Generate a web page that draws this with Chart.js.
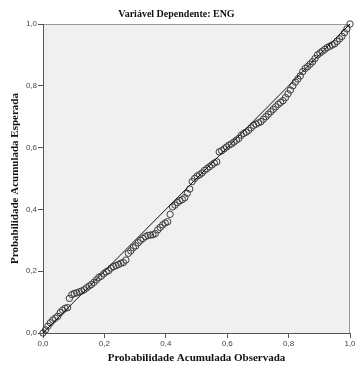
<!DOCTYPE html>
<html>
<head>
<meta charset="utf-8">
<script src="https://cdn.jsdelivr.net/npm/chart.js@4"></script>
<style>
  html, body { margin: 0; padding: 0; background: #fff; }
  #wrap { width: 355px; height: 365px; }
</style>
</head>
<body>
<div id="wrap"><canvas id="pp"></canvas></div>
<script>
// P-P plot of regression residuals (SPSS style)

const titleText = 'Variável Dependente: ENG';
const xTitle = 'Probabilidade Acumulada Observada';
const yTitle = 'Probabilidade Acumulada Esperada';
const tickValues = [0, 0.2, 0.4, 0.6, 0.8, 1.0];

// observed cumulative probability
const observed = [
  0.000, 0.008, 0.016, 0.024, 0.032, 0.040, 0.048, 0.056, 0.064, 0.072,
  0.080, 0.086, 0.094, 0.102, 0.110, 0.118, 0.126, 0.134, 0.142, 0.150,
  0.158, 0.166, 0.174, 0.182, 0.190, 0.198, 0.206, 0.214, 0.222, 0.230,
  0.238, 0.246, 0.254, 0.262, 0.270, 0.278, 0.286, 0.294, 0.302, 0.310,
  0.318, 0.326, 0.334, 0.342, 0.350, 0.358, 0.366, 0.374, 0.382, 0.390,
  0.398, 0.406, 0.414, 0.422, 0.430, 0.438, 0.446, 0.454, 0.462, 0.470,
  0.478, 0.486, 0.494, 0.502, 0.510, 0.518, 0.526, 0.534, 0.542, 0.550,
  0.558, 0.566, 0.574, 0.582, 0.590, 0.598, 0.606, 0.614, 0.622, 0.630,
  0.638, 0.646, 0.654, 0.662, 0.670, 0.678, 0.686, 0.694, 0.702, 0.710,
  0.718, 0.726, 0.734, 0.742, 0.750, 0.758, 0.766, 0.774, 0.782, 0.790,
  0.798, 0.806, 0.814, 0.822, 0.830, 0.838, 0.846, 0.854, 0.862, 0.870,
  0.878, 0.886, 0.894, 0.902, 0.910, 0.918, 0.926, 0.934, 0.942, 0.950,
  0.958, 0.966, 0.974, 0.982, 0.990, 1.000
];

// expected cumulative probability
const expected = [
  0.000, 0.010, 0.022, 0.033, 0.042, 0.048, 0.054, 0.066, 0.074, 0.080,
  0.082, 0.112, 0.124, 0.128, 0.130, 0.133, 0.136, 0.140, 0.146, 0.152,
  0.157, 0.164, 0.172, 0.180, 0.184, 0.192, 0.198, 0.202, 0.210, 0.215,
  0.218, 0.222, 0.226, 0.228, 0.236, 0.258, 0.266, 0.276, 0.282, 0.292,
  0.300, 0.306, 0.312, 0.316, 0.317, 0.318, 0.322, 0.334, 0.342, 0.350,
  0.356, 0.360, 0.384, 0.408, 0.414, 0.422, 0.428, 0.432, 0.438, 0.452,
  0.466, 0.490, 0.500, 0.508, 0.512, 0.518, 0.526, 0.532, 0.538, 0.544,
  0.550, 0.554, 0.586, 0.590, 0.596, 0.602, 0.608, 0.612, 0.618, 0.624,
  0.630, 0.640, 0.646, 0.650, 0.656, 0.664, 0.672, 0.676, 0.680, 0.684,
  0.692, 0.700, 0.708, 0.716, 0.724, 0.732, 0.740, 0.746, 0.752, 0.762,
  0.774, 0.786, 0.800, 0.812, 0.822, 0.832, 0.846, 0.856, 0.862, 0.870,
  0.878, 0.888, 0.900, 0.906, 0.912, 0.918, 0.924, 0.928, 0.932, 0.936,
  0.944, 0.952, 0.960, 0.972, 0.984, 1.000
];

const refLine = [{ x: 0, y: 0 }, { x: 1, y: 1 }];

const points = observed.map((x, i) => ({ x, y: expected[i] }));

const fmt = v => v.toFixed(1).replace('.', ',');

// grey plot background plus the lighter top/right frame
const plotFrame = {
  id: 'plotFrame',
  beforeDraw(chart) {
    const { ctx, chartArea: a } = chart;
    ctx.save();
    ctx.fillStyle = '#f0f0f0';
    ctx.fillRect(a.left, a.top, a.right - a.left, a.bottom - a.top);
    ctx.strokeStyle = '#9a9a9a';
    ctx.lineWidth = 1;
    ctx.beginPath();
    ctx.moveTo(a.left, a.top + 0.5);
    ctx.lineTo(a.right - 0.5, a.top + 0.5);
    ctx.lineTo(a.right - 0.5, a.bottom);
    ctx.stroke();
    ctx.restore();
  }
};

const tickFont = { family: '"Liberation Sans", Arial, sans-serif', size: 8 };
const titleFont = { family: '"Liberation Serif", "Times New Roman", serif', size: 11, weight: 'bold' };

new Chart(document.getElementById('pp'), {
  type: 'scatter',
  data: {
    datasets: [
      {
        type: 'line',
        data: refLine,
        borderColor: '#111',
        borderWidth: 1,
        pointRadius: 0,
        fill: false
      },
      {
        data: points,
        pointRadius: 3.2,
        pointBorderWidth: 1,
        borderColor: '#3c3c3c',
        backgroundColor: 'rgba(0,0,0,0)',
        clip: false
      }
    ]
  },
  plugins: [plotFrame],
  options: {
    responsive: true,
    maintainAspectRatio: false,
    animation: false,
    layout: { padding: { left: 0, right: 2, top: 0, bottom: 0 } },
    plugins: {
      legend: { display: false },
      tooltip: { enabled: false },
      title: {
        display: true,
        text: titleText,
        color: '#111',
        font: { family: titleFont.family, size: 10, weight: 'bold', lineHeight: 1.2 },
        padding: { top: 8, bottom: 4 }
      }
    },
    scales: {
      x: {
        type: 'linear',
        min: 0,
        max: 1,
        afterBuildTicks: s => { s.ticks = tickValues.map(v => ({ value: v })); },
        afterFit: s => { s.height = 32; s.paddingLeft = 0; s.paddingRight = 0; },
        ticks: { callback: fmt, font: tickFont, color: '#444', padding: 1, maxRotation: 0 },
        grid: { drawOnChartArea: false, drawTicks: true, tickLength: 5, tickColor: '#555' },
        border: { display: true, color: '#555', width: 1 },
        title: { display: true, text: xTitle, color: '#111', font: titleFont, padding: { top: 0, bottom: 0 } }
      },
      y: {
        type: 'linear',
        min: 0,
        max: 1,
        afterBuildTicks: s => { s.ticks = tickValues.map(v => ({ value: v })); },
        afterFit: s => { s.width = 43; },
        ticks: { callback: fmt, font: tickFont, color: '#444', padding: 1 },
        grid: { drawOnChartArea: false, drawTicks: true, tickLength: 5, tickColor: '#555' },
        border: { display: true, color: '#555', width: 1 },
        title: { display: true, text: yTitle, color: '#111', font: titleFont, padding: { top: 9, bottom: 0 } }
      }
    }
  }
});
</script>
</body>
</html>
